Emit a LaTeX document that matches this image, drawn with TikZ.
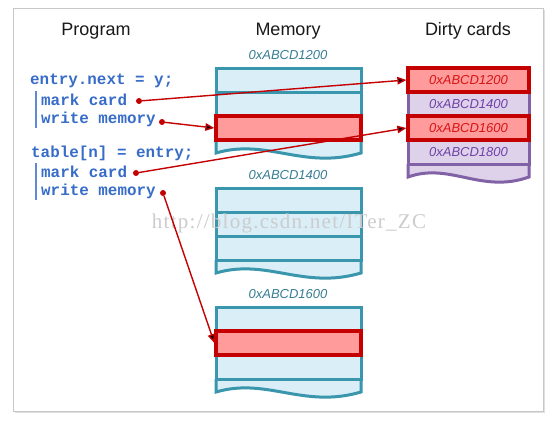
\documentclass[tikz,border=0pt]{standalone}
\usepackage{fontspec}
\setmainfont{Liberation Sans}
\setmonofont{Liberation Mono}
\newfontfamily\markfont[LetterSpace=6]{Liberation Serif}
\usepackage{tikz}
\usetikzlibrary{arrows.meta,positioning}
\definecolor{memblue}{RGB}{218,238,248}
\definecolor{memline}{RGB}{58,150,172}
\definecolor{memtext}{RGB}{55,125,148}
\definecolor{cardred}{RGB}{255,155,155}
\definecolor{cardline}{RGB}{196,0,0}
\definecolor{cardtext}{RGB}{215,20,20}
\definecolor{cardpurple}{RGB}{222,210,234}
\definecolor{purpline}{RGB}{130,98,166}
\definecolor{purptext}{RGB}{112,64,168}
\definecolor{codeblue}{RGB}{55,108,200}

\begin{document}
\begin{tikzpicture}[x=1pt,y=-1pt,>={Triangle[length=9pt,width=7.5pt]},
    title/.style={font=\fontsize{18}{20}\selectfont,text=black!90},
    addr/.style={font=\fontsize{13}{15}\selectfont\itshape,text=memtext},
    code/.style={font=\fontsize{15.9}{18}\selectfont\ttfamily\bfseries,text=codeblue,anchor=base west,inner sep=0pt},
    memrow/.style={draw=memline,line width=3pt,fill=memblue,minimum width=145pt,minimum height=24pt,inner sep=0pt},
    hotrow/.style={memrow,draw=cardline,line width=3.3pt,fill=cardred},
    cardrow/.style={draw=purpline,line width=3pt,fill=cardpurple,minimum width=121pt,minimum height=24pt,inner sep=0pt,font=\fontsize{13}{15}\selectfont\itshape,text=purptext},
    dirtyrow/.style={cardrow,draw=cardline,line width=3.3pt,fill=cardred,text=cardtext},
    memtear/.style={draw=memline,line width=3pt,fill=memblue},
    cardtear/.style={draw=purpline,line width=3pt,fill=cardpurple},
    codebar/.style={draw=codeblue!80,line width=1.6pt},
    dot/.style={circle,fill=cardline,inner sep=0pt,minimum size=6pt},
    link/.style={->,draw=cardline,line width=1.4pt}]
    \useasboundingbox (0,0) rectangle (556,424);
    \fill[black!12] (15,10) rectangle (545,413);
    \draw[black!22,fill=white] (13,8) rectangle (543,411);

    \node[title]    (prog)  at (96,31)   {Program};
    \node[title]    (mem)   at (288,31)  {Memory};
    \node[title]    (dirty) at (468,31)  {Dirty cards};

    \node[addr]     (a_1)   at (288,55)  {0xABCD1200};
    \node[addr]     (a_2)   at (288,175) {0xABCD1400};
    \node[addr]     (a_3)   at (288,294) {0xABCD1600};

    \path[memtear]  (216,140) -- (216,153) .. controls (267,138) and (303,170) .. (361,153) -- (361,140);
    \path[memtear]  (216,260) -- (216,273) .. controls (267,258) and (303,290) .. (361,273) -- (361,260);
    \path[memtear]  (216,379) -- (216,392) .. controls (267,377) and (303,409) .. (361,392) -- (361,379);
    \path[cardtear] (408,164) -- (408,177) .. controls (450,162) and (481,194) .. (529,177) -- (529,164);

    \node[memrow]   (m1_1)  at (288.5,80)  {};
    \node[memrow]   (m1_2)  at (288.5,104) {};
    \node[hotrow]   (m1_3)  at (288.5,128) {};
    \node[memrow]   (m2_1)  at (288.5,200) {};
    \node[memrow]   (m2_2)  at (288.5,224) {};
    \node[memrow]   (m2_3)  at (288.5,248) {};
    \node[memrow]   (m3_1)  at (288.5,319) {};
    \node[memrow]   (m3_3)  at (288.5,367) {};
    \node[hotrow]   (m3_2)  at (288.5,343) {};

    \node[cardrow]  (d_2)   at (468.5,104) {0xABCD1400};
    \node[cardrow]  (d_4)   at (468.5,152) {0xABCD1800};
    \node[dirtyrow] (d_1)   at (468.5,80)  {0xABCD1200};
    \node[dirtyrow] (d_3)   at (468.5,128) {0xABCD1600};

    \node[code]     (c_1)   at (30,84)   {entry.next = y;};
    \node[code]     (mc_1)  at (41,105)  {mark card};
    \node[code]     (wm_1)  at (41,123)  {write memory};
    \node[code]     (c_2)   at (31,157)  {table[n] = entry;};
    \node[code]     (mc_2)  at (41,177)  {mark card};
    \node[code]     (wm_2)  at (41,195)  {write memory};
    \draw[codebar]  (36,91) -- (36,128);
    \draw[codebar]  (36,163) -- (36,200);

    \node[font=\markfont\fontsize{21}{24}\selectfont,text=black!20] (mark) at (289,223) {http://blog.csdn.net/ITer\_ZC};

    \node[dot]      (p_1)   at (139,101) {};
    \node[dot]      (p_2)   at (162,122) {};
    \node[dot]      (p_3)   at (136,173) {};
    \node[dot]      (p_4)   at (163,193) {};
    \path[link] (p_1) edge (d_1.west)
                (p_2) edge (m1_3.west)
                (p_3) edge (d_3.west)
                (p_4) edge (m3_2.west);
\end{tikzpicture}
\end{document}
